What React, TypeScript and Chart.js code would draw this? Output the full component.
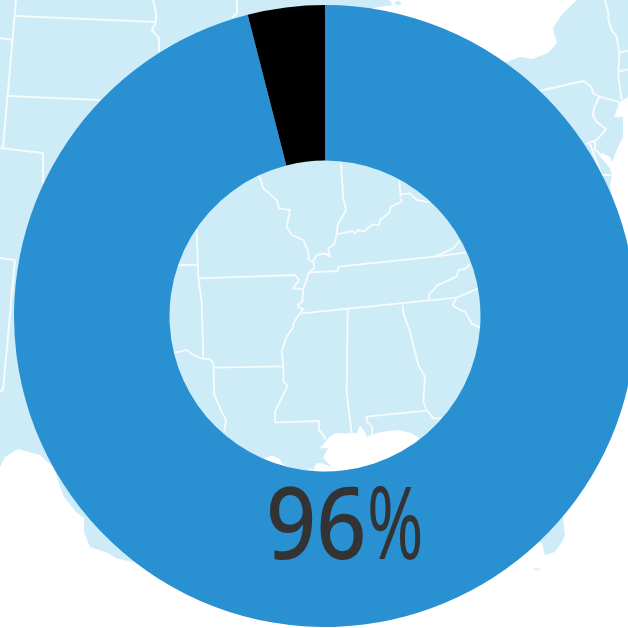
import React, { useEffect, useRef } from "react";
import { Chart, registerables } from "chart.js";

Chart.register(...registerables);

const categories = ["Yes", "No"];
const shares = [96, 4];
const sliceColours = ["#2990d1", "#000000"];
const centreNumber = "96";
const centreUnit = "%";

// Decorative base map behind the doughnut (page pixels).
const LAND = "0,0 389,0 393,5 372,8 372,40 507,62 520,57 532,59 548,53 557,43 554,33 553,28 563,13 577,0 628,0 628,97 620,102 614,117 623,117 623,137 618,147 612,162 610,157 602,153 599,155 610,168 612,175 610,187 613,200 600,300 563,518 565,535 562,542 555,552 545,555 542,543 400,500 132,562 116,558 108,553 90,547 84,532 84,518 76,512 64,497 60,487 54,468 40,455 18,449 5,457 0,467";
const OUTER_LINES = [
  "16,0 3,148", "16,16 156,22", "8,96 100,100", "0,148 43,153 43,183", "0,38 13,40",
  "153,0 156,13 156,22 152,30 159,38 159,52", "237,0 237,13 232,18",
  "0,258 15,260", "15,260 3,390 0,391",
];
const NE_LINES = [
  "375,0 385,40 385,60 395,90 410,110 418,160 415,230 425,300", "415,158 444,152", "415,215 444,208",
  "180,272 310,243 335,262 340,280 358,290 415,305 420,325",
  "358,290 342,325 338,345 350,365 378,388 350,420 320,432",
  "345,425 345,450 365,465", "330,432 365,525 395,525",
];
const GULF = "465,880 490,850 510,835 575,835 585,812 600,830 605,845 650,830 700,825 740,835 770,855 800,900 700,1000 250,1000 300,908 320,902 345,912 350,925 375,938 400,960 425,945 440,940 442,950 455,925 470,925 500,935 480,915 475,905 490,880";
const INNER_LINES = [
  "282,62 295,100 335,135 342,160 375,165 365,215 380,240 415,255 430,290 432,315 445,320",
  "528,22 535,130 543,165 518,210 515,240", "703,75 707,125",
  "707,118 735,115 755,135 795,142",
  "707,130 710,140 678,155 672,175 645,195 642,210 625,208 605,222 600,230 580,225 570,235 563,228 515,238 508,268 490,280 495,305 480,295 455,300 445,318 448,340 432,352",
  "432,352 518,348 520,335 810,305 905,292", "885,255 865,280 810,305",
  "102,370 390,360 402,375 385,400 415,402", "95,222 100,370 110,440 115,610",
  "432,352 415,402 412,440 398,450 405,460 415,462 405,475 385,505 385,515 365,545 350,590 355,630 355,680 368,692 330,770 330,802 462,798 462,825 475,840 482,855",
  "28,592 45,590 65,585 85,600 115,612 135,612 145,625", "145,638 355,634",
  "145,625 148,720 170,770 183,795 178,830", "18,330 95,330",
  "410,475 875,428 940,400", "548,462 545,710 560,835",
  "713,450 715,475 735,530 760,630 780,665 775,740 785,765",
  "785,767 605,785 605,800 622,815 622,840", "785,765 805,790 830,790",
  "790,435 792,418 810,400 815,392 875,365 880,345 900,342 915,328",
  "875,430 862,450 885,465 900,470 920,505 945,518",
];

export default function App() {
  const ref = useRef<HTMLCanvasElement | null>(null);

  useEffect(() => {
    if (!ref.current) return;
    const chart = new Chart(ref.current, {
      type: "doughnut",
      data: {
        labels: categories,
        datasets: [{ data: shares, backgroundColor: sliceColours, borderWidth: 0 }],
      },
      options: {
        responsive: false,
        animation: false,
        cutout: "50%",
        layout: { padding: 5 },
        plugins: { legend: { display: false }, tooltip: { enabled: false } },
      },
    });
    return () => chart.destroy();
  }, []);

  return (
    <div style={{ position: "relative", width: 628, height: 628, overflow: "hidden", background: "#fff" }}>
      <style>{"html,body{margin:0;padding:0;overflow:hidden}"}</style>
      <svg width={628} height={628} style={{ position: "absolute", left: 0, top: 0 }}>
        <polygon points={LAND} fill="#cdecf7" />
        <ellipse cx={398} cy={3} rx={3} ry={2} fill="#cdecf7" />
        <ellipse cx={537} cy={569} rx={4} ry={1.5} fill="#e4f4fa" />
        <g fill="none" stroke="#f6fbfd" strokeWidth={2} strokeLinejoin="round">
          {OUTER_LINES.map((p, i) => <polyline key={i} points={p} />)}
          <g transform="translate(480 0) scale(0.3333)" strokeWidth={6}>
            {NE_LINES.map((p, i) => <polyline key={i} points={p} />)}
          </g>
        </g>
        <g transform="translate(165 155) scale(0.3333)">
          <polygon points={GULF} fill="#fff" />
          <g fill="none" stroke="#f6fbfd" strokeWidth={5.5} strokeLinejoin="round">
            {INNER_LINES.map((p, i) => <polyline key={i} points={p} />)}
          </g>
        </g>
      </svg>
      <canvas ref={ref} width={650} height={632} style={{ position: "absolute", left: 0, top: 0, width: 650, height: 632 }} />
      <div style={{ position: "absolute", left: 266, top: 460, whiteSpace: "nowrap", fontFamily: "'Noto Sans'", fontSize: 100, lineHeight: "120px", color: "#333" }}>
        <span style={{ display: "inline-block", fontWeight: 500, transform: "scaleX(0.88)", transformOrigin: "0 50%", width: 101 }}>{centreNumber}</span>
        <span style={{ display: "inline-block", fontWeight: 400, transform: "scaleX(0.68)", transformOrigin: "0 50%" }}>{centreUnit}</span>
      </div>
    </div>
  );
}
